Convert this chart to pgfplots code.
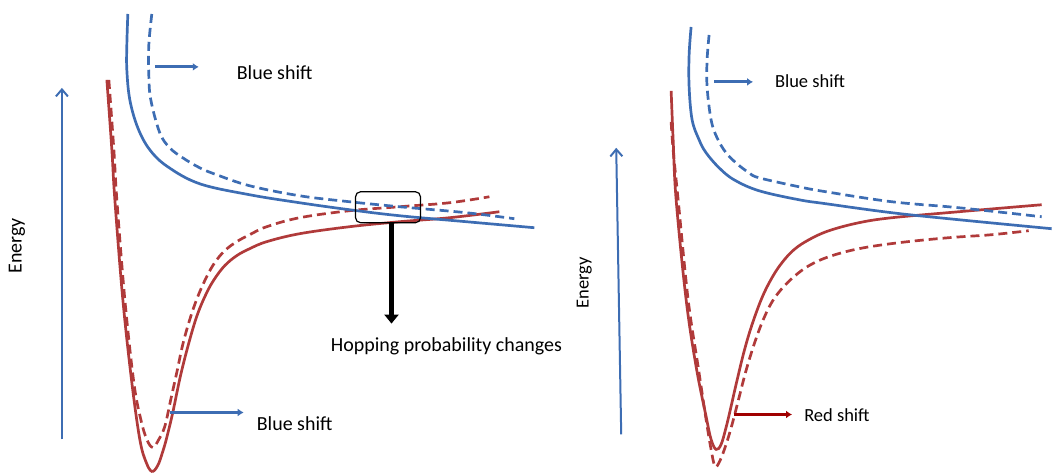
\documentclass[border=0pt]{standalone}
\usepackage{pgfplots}
\pgfplotsset{compat=1.18}
\usepackage{fontspec}
\setmainfont{Carlito}
\usetikzlibrary{arrows.meta}
\definecolor{cblue}{HTML}{3D6DB3}
\definecolor{cred}{HTML}{B03A3A}
\definecolor{cdred}{HTML}{A00000}
\begin{document}
\begin{tikzpicture}
\begin{axis}[
  x=1pt, y=1pt, y dir=reverse,
  xmin=0, xmax=1053, ymin=0, ymax=474,
  hide axis, clip=false, scale only axis,
  every axis plot/.append style={line width=2.7pt, smooth, tension=0.6},
]
\addplot[draw=none, forget plot] coordinates {(0,0) (1053,474)};
% ---------- left panel ----------
% red solid
\addplot[cred] coordinates {
(107,80) (112,150) (115,200) (123,300) (132,383) (140,440) (146,462) (152,472)
(158,466) (163,452) (167,438) (173,413) (181,375) (190,340) (198,314) (207,293)
(215,279) (225,266) (237,256) (250,249) (267,242) (300,234) (350,227) (400,222) (450,218) (500,212)};
% red dashed
\addplot[cred, dash pattern=on 9pt off 5pt] coordinates {
(109,80) (114,150) (117,200) (125,300) (134,383) (141,420) (147,440) (153,448)
(159,440) (165,427) (171,400) (177,373) (183,345) (190,320) (198,297) (207,277)
(215,263) (225,251) (237,242) (250,235) (267,227) (300,218) (350,211) (400,207) (450,203) (490,197)};
% blue solid
\addplot[cblue] coordinates {
(128,14) (127,45) (127,70) (130,100) (138,128) (150,150) (168,167) (200,184)
(250,195) (300,203) (350,210) (400,216) (467,222) (535,228)};
% blue dashed
\addplot[cblue, dash pattern=on 9pt off 5pt] coordinates {
(152,14) (149,45) (149,75) (151,100) (160,133) (170,148) (183,158) (200,168) (217,175)
(250,186) (300,196) (350,202) (400,207) (467,213) (515,219)};
% ---------- right panel ----------
% red solid
\addplot[cred] coordinates {
(672,91) (674,140) (677,200) (687,300) (697,367) (707,417) (712,440) (717,450)
(722,445) (727,428) (732,407) (737,385) (745,352) (753,325) (763,298) (773,278)
(783,263) (795,250) (810,240) (830,231) (860,223) (893,218) (960,212) (1043,205)};
% red dashed
\addplot[cred, dash pattern=on 9pt off 5pt] coordinates {
(672,122) (674,150) (679,200) (689,300) (699,367) (707,420) (712,450) (716,467)
(721,461) (727,445) (733,425) (740,398) (747,371) (755,345) (763,323) (772,304)
(782,290) (795,277) (810,266) (830,257) (860,249) (900,243) (950,238) (993,235) (1030,231)};
% blue solid
\addplot[cblue] coordinates {
(692,27) (690,55) (690,87) (693,120) (700,140) (707,153) (720,168) (735,180)
(760,191) (800,200) (827,204) (893,213) (960,220) (1053,229)};
% blue dashed
\addplot[cblue, dash pattern=on 9pt off 5pt] coordinates {
(710,35) (708,60) (708,87) (712,120) (718,138) (727,153) (738,164) (750,173)
(760,178) (800,187) (827,192) (893,202) (960,208) (1043,217)};
% ---------- annotations ----------
\draw[cblue, line width=2pt, -{Straight Barb[length=7pt,width=12pt]}] (axis cs:62,440) -- (axis cs:62,88);
\draw[cblue, line width=2pt, -{Straight Barb[length=7pt,width=12pt]}] (axis cs:622,435) -- (axis cs:617,148);
\draw[cblue, line width=3pt, -{Latex[length=6pt,width=8pt]}] (axis cs:155,67) -- (axis cs:199,67);
\draw[cblue, line width=3pt, -{Latex[length=6pt,width=8pt]}] (axis cs:170,413) -- (axis cs:244,413);
\draw[cblue, line width=3pt, -{Latex[length=6pt,width=8pt]}] (axis cs:715,82) -- (axis cs:754,82);
\draw[cdred, line width=3pt, -{Latex[length=6pt,width=8pt]}] (axis cs:735,415) -- (axis cs:793,415);
\draw[black, line width=1.2pt, rounded corners=5pt] (axis cs:356,192) rectangle (axis cs:421,223);
\draw[black, line width=5pt, -{Triangle[length=9pt,width=14pt]}] (axis cs:392,223) -- (axis cs:392,324);
\node[font=\fontsize{20}{24}\selectfont] at (axis cs:275,73) {Blue shift};
\node[font=\fontsize{20}{24}\selectfont] at (axis cs:295,424) {Blue shift};
\node[font=\fontsize{20}{24}\selectfont] at (axis cs:447,347) {Hopping probability changes};
\node[font=\fontsize{20}{24}\selectfont, rotate=90] at (axis cs:17,246) {Energy};
\node[font=\fontsize{18.5}{22}\selectfont] at (axis cs:811,81) {Blue shift};
\node[font=\fontsize{18.5}{22}\selectfont] at (axis cs:838,416) {Red shift};
\node[font=\fontsize{18.5}{22}\selectfont, rotate=90] at (axis cs:585,283) {Energy};
\end{axis}
\end{tikzpicture}
\end{document}
